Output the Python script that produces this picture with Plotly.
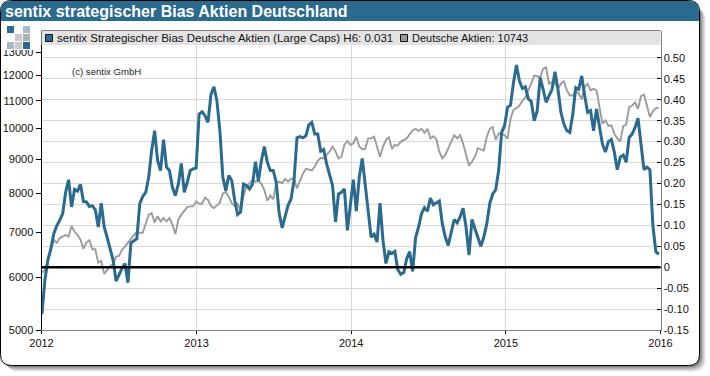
import pandas as pd
import plotly.graph_objects as go

bias_values = [
 -0.112,-0.031,0.017,0.044,0.08,0.099,0.112,0.128,0.179,0.209,0.144,0.186,0.182,0.198,0.157,0.156,0.145,0.147,0.137,0.096,
 0.153,0.096,0.071,0.044,0.017,-0.033,-0.017,-0.003,0.009,-0.037,0.058,0.063,0.068,0.152,0.169,0.179,0.215,0.279,0.326,0.255,
 0.231,0.305,0.239,0.231,0.191,0.171,0.199,0.248,0.179,0.203,0.231,0.235,0.237,0.366,0.371,0.362,0.346,0.413,0.431,0.398,
 0.326,0.215,0.183,0.219,0.207,0.16,0.126,0.132,0.199,0.195,0.187,0.198,0.252,0.205,0.255,0.288,0.251,0.231,0.231,0.203,
 0.128,0.094,0.124,0.148,0.163,0.207,0.309,0.312,0.309,0.314,0.34,0.346,0.318,0.318,0.277,0.281,0.247,0.223,0.195,0.108,
 0.175,0.179,0.187,0.088,0.144,0.209,0.134,0.215,0.26,0.199,0.124,0.072,0.079,0.06,0.153,0.064,0.009,0.037,0.033,0.038,
 -0.006,-0.017,-0.013,0.021,0.037,-0.01,0.071,0.096,0.128,0.142,0.134,0.165,0.149,0.153,0.158,0.104,0.072,0.052,0.084,0.114,
 0.106,0.12,0.141,0.096,0.029,0.114,0.092,0.071,0.05,0.072,0.104,0.152,0.175,0.185,0.231,0.322,0.338,0.382,0.387,0.441,
 0.483,0.445,0.427,0.431,0.402,0.396,0.35,0.374,0.453,0.425,0.394,0.41,0.425,0.467,0.425,0.37,0.342,0.326,0.322,0.366,
 0.429,0.425,0.457,0.41,0.37,0.374,0.326,0.378,0.33,0.294,0.275,0.3,0.305,0.275,0.233,0.263,0.268,0.251,0.31,0.318,
 0.334,0.356,0.294,0.233,0.239,0.233,0.1,0.037,0.031]

dax_values = [
 6080,6155,6340,6560,6820,6750,6860,6895,6930,6895,7150,7010,6930,6820,6615,6760,6810,6600,6600,6300,
 6340,6065,6140,6230,6265,6435,6450,6585,6660,6750,6860,6930,7010,6985,6985,7220,7435,7475,7240,7395,
 7265,7350,7265,7350,7180,6955,7310,7435,7545,7630,7650,7650,7780,7720,7720,7880,7820,7665,7605,7665,
 7750,7990,8040,7905,7735,7665,7720,7520,7950,8185,8285,8380,8330,8350,8265,8090,7800,7945,7840,8285,
 8330,8285,8410,8330,8410,8410,8135,8330,8560,8705,8675,8655,8775,8950,9040,9020,9130,9240,9400,9240,
 9020,9075,9455,9580,9450,9505,9720,9400,9310,9325,9665,9665,9720,9400,9075,9400,9615,9700,9325,9450,
 9430,9560,9615,9665,9805,9935,9990,9915,9990,9850,9990,9665,9740,9635,9235,9020,9130,9345,9505,9775,
 9665,9775,9505,9130,8800,8920,9075,9345,9310,9270,9720,9990,10050,9615,9830,9835,9775,9655,10340,10665,
 10725,10820,11000,11130,11400,11730,12000,11970,11930,12280,12340,11665,11730,11690,11465,11665,11760,11400,11200,11200,
 11360,11270,11070,11530,11665,11400,11465,11400,10820,10165,10285,10085,10105,9825,9665,9560,10085,10130,10760,10820,
 10940,10700,11180,11240,10820,10405,10610,10725,10743]

weeks = pd.date_range("2012-01-02", periods=len(bias_values), freq="7D")
year_ticks = ["2012-01-01", "2013-01-01", "2014-01-01", "2015-01-01", "2016-01-01"]
year_labels = ["2012", "2013", "2014", "2015", "2016"]
left_ticks = [5000, 6000, 7000, 8000, 9000, 10000, 11000, 12000, 13000]
right_ticks = [-0.15, -0.10, -0.05, 0, 0.05, 0.10, 0.15, 0.20, 0.25, 0.30, 0.35, 0.40, 0.45, 0.50]
right_labels = ["-0.15", "-0.10", "-0.05", "0", "0.05", "0.10", "0.15", "0.20", "0.25", "0.30", "0.35", "0.40", "0.45", "0.50"]
title_text = "sentix strategischer Bias Aktien Deutschland"
legend_blue = "sentix Strategischer Bias Deutsche Aktien (Large Caps) H6: 0.031"
legend_gray = "Deutsche Aktien: 10743"

W, H = 710, 376
BLUE = "#2a6a8e"
GRAY = "#9c9c9c"
FONT = "Liberation Sans"
L, R, T, B = 41.5, 660.5, 31, 330


def px(x):
    return x / W


def py(y):
    return 1 - y / H


def rr(x0, y0, x1, y1, r):
    return (f"M{px(x0+r)},{py(y0)} L{px(x1-r)},{py(y0)} Q{px(x1)},{py(y0)} {px(x1)},{py(y0+r)} "
            f"L{px(x1)},{py(y1-r)} Q{px(x1)},{py(y1)} {px(x1-r)},{py(y1)} L{px(x0+r)},{py(y1)} "
            f"Q{px(x0)},{py(y1)} {px(x0)},{py(y1-r)} L{px(x0)},{py(y0+r)} Q{px(x0)},{py(y0)} {px(x0+r)},{py(y0)} Z")


def topbar(x0, y0, x1, y1, r):
    return (f"M{px(x0+r)},{py(y0)} L{px(x1-r)},{py(y0)} Q{px(x1)},{py(y0)} {px(x1)},{py(y0+r)} "
            f"L{px(x1)},{py(y1)} L{px(x0)},{py(y1)} L{px(x0)},{py(y0+r)} Q{px(x0)},{py(y0)} {px(x0+r)},{py(y0)} Z")


def box(x0, y0, x1, y1, fill, line=None, layer="above"):
    return dict(type="rect", xref="paper", yref="paper", x0=px(x0), x1=px(x1), y0=py(y0), y1=py(y1),
                fillcolor=fill, line=dict(color=line or fill, width=1 if line else 0), layer=layer)


shapes = []
for i, a in zip(range(7, 0, -1), [0.05, 0.07, 0.09, 0.11, 0.13, 0.16, 0.2]):
    shapes.append(dict(type="path", xref="paper", yref="paper", path=rr(1+i-1, 3+i-1, 700+i-1, 366+i-1, 12),
                       fillcolor=f"rgba(0,0,0,{a})", line=dict(width=0), layer="below"))
shapes.append(dict(type="path", xref="paper", yref="paper", path=rr(0.5, 0.5, 699.5, 365.5, 11),
                   fillcolor="white", line=dict(color="black", width=1), layer="below"))
shapes.append(dict(type="path", xref="paper", yref="paper", path=topbar(1, 1, 699, 21, 10),
                   fillcolor=BLUE, line=dict(width=0), layer="below"))

# legend band, border, logo background
shapes.append(box(0.9, 22, 41, 50, "white"))
shapes.append(box(L, T, R, 45, "#e3e3e3"))
shapes.append(dict(type="line", xref="paper", yref="paper", x0=px(L), x1=px(R), y0=py(30.5), y1=py(30.5),
                   line=dict(color="#808080", width=1), layer="above"))
shapes.append(box(45.5, 34.5, 52.5, 41.5, BLUE, "#111111"))
shapes.append(box(400.5, 34.5, 407.5, 41.5, "#999999", "#111111"))

# logo
LOGO_CELLS = [(0, 0, BLUE), (2, 0, "#a8bac6"), (1, 1, "#c9c9c9"), (2, 1, "#a9b4ba"),
              (0, 2, "#a5b8c4"), (1, 2, "#c9c9c9"), (2, 2, BLUE)]
for c, r, col in LOGO_CELLS:
    x0 = 7 + c * 8
    y0 = 26 + r * 8
    shapes.append(box(x0, y0, x0 + 7, y0 + 7, col))

# zero line drawn from the right axis
shapes.append(dict(type="line", xref="x domain", yref="y2", x0=0, x1=1, y0=0, y1=0,
                   line=dict(color="black", width=2.5), layer="above"))

annotations = [
    dict(text=f"<b>{title_text}</b>", x=px(3), y=py(11), xanchor="left", yanchor="middle",
         font=dict(family=FONT, size=16, color="white")),
    dict(text=legend_blue, x=px(55), y=py(38), xanchor="left", yanchor="middle",
         font=dict(family=FONT, size=11.5, color="#111111")),
    dict(text=legend_gray, x=px(409.5), y=py(38), xanchor="left", yanchor="middle",
         font=dict(family=FONT, size=11, color="#111111")),
    dict(text="(c) sentix GmbH", x=px(70), y=py(71), xanchor="left", yanchor="middle",
         font=dict(family=FONT, size=9.6, color="#222222")),
]
for a in annotations:
    a.update(xref="paper", yref="paper", showarrow=False)

fig = go.Figure()
fig.add_trace(go.Scatter(x=weeks, y=dax_values, mode="lines", yaxis="y",
                         line=dict(color=GRAY, width=1.9), hoverinfo="skip"))
fig.add_trace(go.Scatter(x=weeks, y=bias_values, mode="lines", yaxis="y2",
                         line=dict(color=BLUE, width=3), hoverinfo="skip"))

axis_font = dict(family=FONT, size=11, color="#111111")
fig.update_layout(
    width=W, height=H, margin=dict(l=0, r=0, t=0, b=0, pad=0, autoexpand=False), showlegend=False,
    paper_bgcolor="white", plot_bgcolor="rgba(0,0,0,0)", shapes=shapes, annotations=annotations,
    xaxis=dict(domain=[px(L), px(R)], type="date", range=["2012-01-01", "2016-01-01"],
               tickmode="array", tickvals=year_ticks, ticktext=year_labels, showgrid=True,
               gridcolor="#d9d9d9", gridwidth=1, ticks="outside", ticklen=3, tickcolor="black",
               showline=True, linecolor="#808080", linewidth=1, tickfont=axis_font, zeroline=False),
    yaxis=dict(domain=[py(B), py(T)], type="log", range=[3.69897, 4.14566], tickmode="array",
               tickvals=left_ticks, ticktext=[str(t) for t in left_ticks], showgrid=False,
               ticks="outside", ticklen=5, tickcolor="black", showline=True, linecolor="black",
               linewidth=1, tickfont=axis_font, zeroline=False),
    yaxis2=dict(domain=[py(B), py(T)], overlaying="y", side="right", range=[-0.15, 0.5643],
                tickmode="array", tickvals=right_ticks, ticktext=right_labels, showgrid=True,
                gridcolor="#d9d9d9", gridwidth=1, ticks="inside", ticklen=4, tickcolor="black",
                showline=True, linecolor="#808080", linewidth=1, tickfont=axis_font, zeroline=False),
)

fig.write_html("out.html", post_script="document.body.style.margin='0';document.body.style.overflow='hidden';",
               config=dict(displayModeBar=False))
